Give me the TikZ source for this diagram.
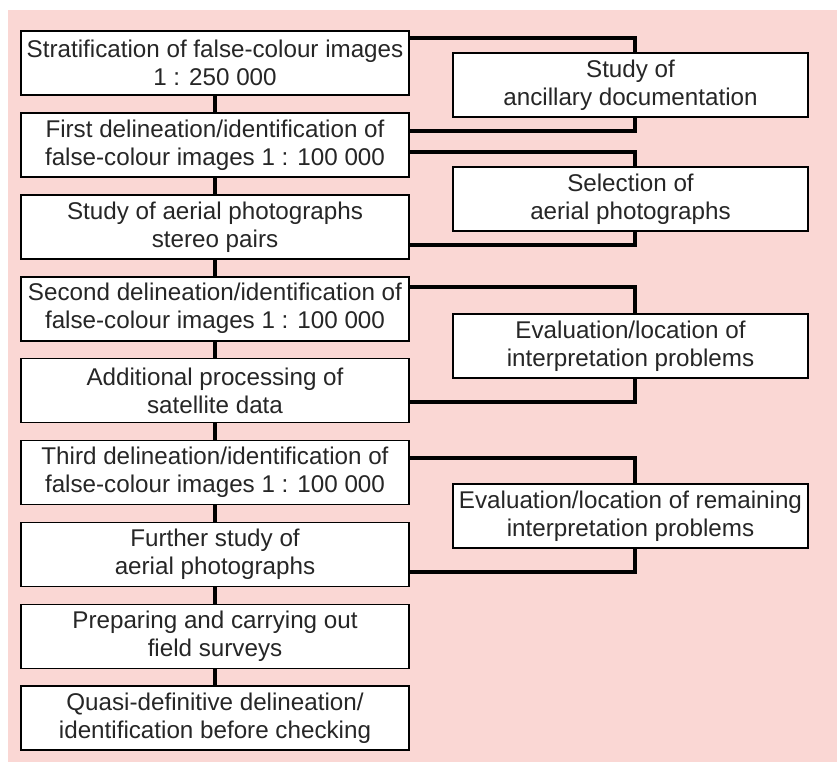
\documentclass[tikz,border=0pt]{standalone}
\usepackage{fontspec}
\setmainfont{Liberation Sans}
\usetikzlibrary{positioning}

\definecolor{pinkbg}{HTML}{FAD7D4}
\definecolor{inkgray}{HTML}{262626}

\tikzset{
  stepbox/.style={draw, fill=white, line width=1.6pt, minimum width=388pt, minimum height=64pt,
    inner sep=2pt, align=center, text=inkgray, font=\fontsize{24.2}{28}\selectfont},
  sidebox/.style={stepbox, minimum width=355.4pt, anchor=north west},
  link/.style={line width=4pt}
}

\begin{document}
\begin{tikzpicture}[x=1pt, y=-1pt]

\useasboundingbox (0,0) rectangle (837,762);
\fill[pinkbg] (8,10) rectangle (837,762);

% Main chain nodes
\node[stepbox] (strat) at (215,63) {Stratification of false-colour images\\1 : 250 000};
\node[stepbox, below=16.3pt of strat] (first) {First delineation/identification of\\false-colour images 1 : 100 000};
\node[stepbox, below=16.3pt of first] (aerial) {Study of aerial photographs\\stereo pairs};
\node[stepbox, below=16.3pt of aerial] (second) {Second delineation/identification of\\false-colour images 1 : 100 000};
\node[stepbox, below=16.3pt of second] (processing) {Additional processing of\\satellite data};
\node[stepbox, below=16.3pt of processing] (third) {Third delineation/identification of\\false-colour images 1 : 100 000};
\node[stepbox, below=16.3pt of third] (further) {Further study of\\aerial photographs};
\node[stepbox, below=16.3pt of further] (field) {Preparing and carrying out\\field surveys};
\node[stepbox, below=16.3pt of field] (quasi) {Quasi-definitive delineation/\\identification before checking};

% Side nodes
\node[sidebox] (ancillary) at (452,52) {Study of\\ancillary documentation};
\node[sidebox] (selection) at (452,166) {Selection of\\aerial photographs};
\node[sidebox] (evaluation) at (452,313) {Evaluation/location of\\interpretation problems};
\node[sidebox] (remaining) at (452,483) {Evaluation/location of remaining\\interpretation problems};

% Main chain connections
\draw[link] (strat) -- (first);
\draw[link] (first) -- (aerial);
\draw[link] (aerial) -- (second);
\draw[link] (second) -- (processing);
\draw[link] (processing) -- (third);
\draw[link] (third) -- (further);
\draw[link] (further) -- (field);
\draw[link] (field) -- (quasi);

% Side loops
\draw[link] ([yshift=-8pt]strat.north east) -| ([xshift=4pt]ancillary.north);
\draw[link] ([xshift=4pt]ancillary.south) |- ([yshift=-19pt]first.north east);
\draw[link] ([yshift=-40pt]first.north east) -| ([xshift=4pt]selection.north);
\draw[link] ([xshift=4pt]selection.south) |- ([yshift=-51pt]aerial.north east);
\draw[link] ([yshift=-11pt]second.north east) -| ([xshift=4pt]evaluation.north);
\draw[link] ([xshift=4pt]evaluation.south) |- ([yshift=-44pt]processing.north east);
\draw[link] ([yshift=-18pt]third.north east) -| ([xshift=4pt]remaining.north);
\draw[link] ([xshift=4pt]remaining.south) |- ([yshift=-50pt]further.north east);

\end{tikzpicture}
\end{document}
